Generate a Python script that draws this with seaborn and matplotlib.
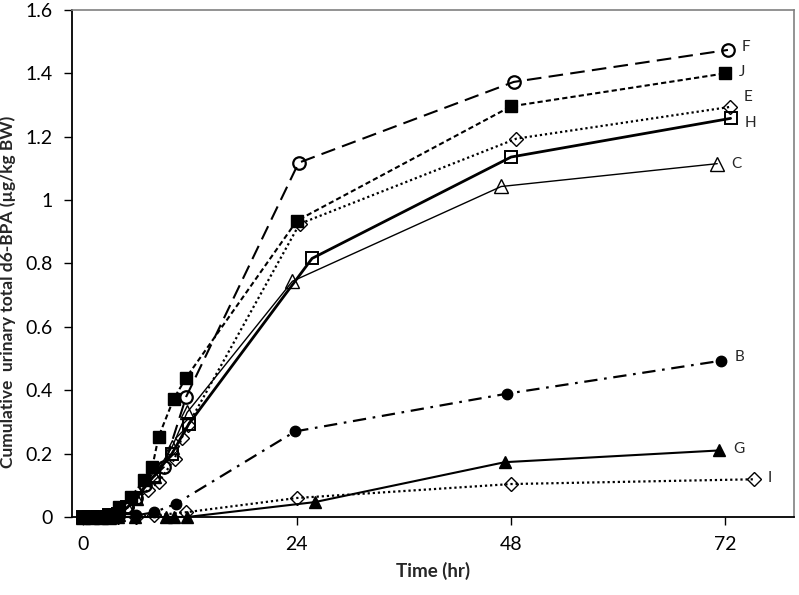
import pandas as pd
import numpy as np
import seaborn as sns
import matplotlib.pyplot as plt

# time points (hr) and cumulative urinary total d6-BPA (ug/kg BW) for each subject
t_F = [0, 1, 2, 3, 4, 5, 6, 7, 9.1, 11.6, 24.2, 48.3, 72.3]
v_F = [0, 0, 0, 0.005, 0.01, 0.03, 0.06, 0.10, 0.158, 0.38, 1.118, 1.373, 1.474]

t_J = [0, 1, 2, 3, 4.1, 5.4, 6.9, 7.8, 8.5, 10.2, 11.6, 24.0, 48.0, 72.0]
v_J = [0, 0, 0, 0.005, 0.032, 0.063, 0.117, 0.158, 0.253, 0.373, 0.44, 0.935, 1.296, 1.40]

t_E = [0, 1, 2, 3, 4, 5, 7.3, 8.5, 10.3, 11.1, 11.8, 24.3, 48.6, 72.5]
v_E = [0, 0, 0, 0, 0.01, 0.03, 0.085, 0.11, 0.183, 0.25, 0.29, 0.925, 1.194, 1.294]

t_H = [0, 1, 2, 3, 4, 5, 6, 8, 10, 11.9, 25.7, 48.0, 72.6]
v_H = [0, 0, 0, 0.005, 0.01, 0.03, 0.06, 0.13, 0.2, 0.294, 0.816, 1.136, 1.258]

t_C = [0, 1, 2, 3, 4, 5, 6, 8, 10, 11.7, 23.5, 46.9, 71.1]
v_C = [0, 0, 0, 0, 0.01, 0.03, 0.06, 0.13, 0.22, 0.33, 0.744, 1.043, 1.115]

t_B = [0, 1, 2, 3, 4, 6, 8.0, 10.4, 23.8, 47.5, 71.5]
v_B = [0, 0, 0, 0, 0, 0.005, 0.015, 0.041, 0.27, 0.389, 0.493]

t_G = [0, 1, 2, 3, 4, 5.9, 9.3, 10.2, 11.7, 26.0, 47.3, 71.3]
v_G = [0, 0, 0, 0, 0, 0, 0, 0, 0, 0.047, 0.173, 0.21]

t_I = [0, 1, 2, 3, 4, 6, 8, 11.6, 24.0, 48.0, 75.2]
v_I = [0, 0, 0, 0, 0, 0, 0.005, 0.015, 0.06, 0.104, 0.119]

x_ticks = [0, 24, 48, 72]
y_ticks = [0, 0.2, 0.4, 0.6, 0.8, 1, 1.2, 1.4, 1.6]
y_ticklabels = ['0', '0.2', '0.4', '0.6', '0.8', '1', '1.2', '1.4', '1.6']

sns.set_style('white')
plt.rcParams['font.family'] = ['Lato', 'DejaVu Sans']

fig = plt.figure(figsize=(7.99, 5.95), dpi=100)
ax = fig.add_axes([0.0901, 0.1311, 0.9036, 0.8521])

series = [
    ('F', t_F, v_F, dict(marker='o', mfc='none', ms=9, mew=1.6, lw=1.5, linestyle=(0, (7, 3.5)))),
    ('J', t_J, v_J, dict(marker='s', mfc='black', ms=8.5, mew=1, lw=1.5, linestyle=(0, (2.5, 1.5)))),
    ('E', t_E, v_E, dict(marker='D', mfc='none', ms=7, mew=1, lw=1.6, linestyle=(0, (1, 1.3)))),
    ('H', t_H, v_H, dict(marker='s', mfc='none', ms=9, mew=1.4, lw=2.0, linestyle='-')),
    ('C', t_C, v_C, dict(marker='^', mfc='none', ms=10, mew=1, lw=1.0, linestyle='-')),
    ('B', t_B, v_B, dict(marker='o', mfc='black', ms=7.5, mew=1, lw=1.6, linestyle=(0, (6, 3, 1.2, 3)))),
    ('G', t_G, v_G, dict(marker='^', mfc='black', ms=8.5, mew=1, lw=1.5, linestyle='-')),
    ('I', t_I, v_I, dict(marker='D', mfc='none', ms=7, mew=1, lw=1.6, linestyle=(0, (1, 1.3)))),
]

label_offsets = {'F': (10, 2), 'J': (10, 1), 'E': (10, 7), 'H': (10, -3), 'C': (10, 0),
                 'B': (10, 3), 'G': (10, 1), 'I': (10, 1)}

for name, t, v, kw in series:
    df = pd.DataFrame({'Time': t, 'Value': v})
    sns.lineplot(data=df, x='Time', y='Value', ax=ax, color='black', mec='black',
                 estimator=None, sort=False, errorbar=None, clip_on=False, **kw)
    dx, dy = label_offsets[name]
    ax.annotate(name, (t[-1], v[-1]), xytext=(dx, dy), textcoords='offset points',
                fontsize=11, ha='left', va='center')

ax.set_xlim(-1.2, 79.7)
ax.set_ylim(0, 1.6)
ax.set_xticks(x_ticks)
ax.set_yticks(y_ticks)
ax.set_yticklabels(y_ticklabels)
ax.tick_params(axis='both', direction='out', length=6, width=1, labelsize=14, pad=8,
               bottom=True, left=True, colors='black')
ax.set_xlabel('Time (hr)', fontsize=13.5, fontweight='bold', labelpad=6)
ax.set_ylabel('Cumulative  urinary total d6-BPA (µg/kg BW)', fontsize=12.5, fontweight='bold')
ax.yaxis.set_label_coords(-0.078, 0.445)

for s in ['left', 'bottom']:
    ax.spines[s].set_color('black')
    ax.spines[s].set_linewidth(1.3)
for s in ['top', 'right']:
    ax.spines[s].set_color('#808080')
    ax.spines[s].set_linewidth(1.2)

fig.savefig('out.png', dpi=100)
